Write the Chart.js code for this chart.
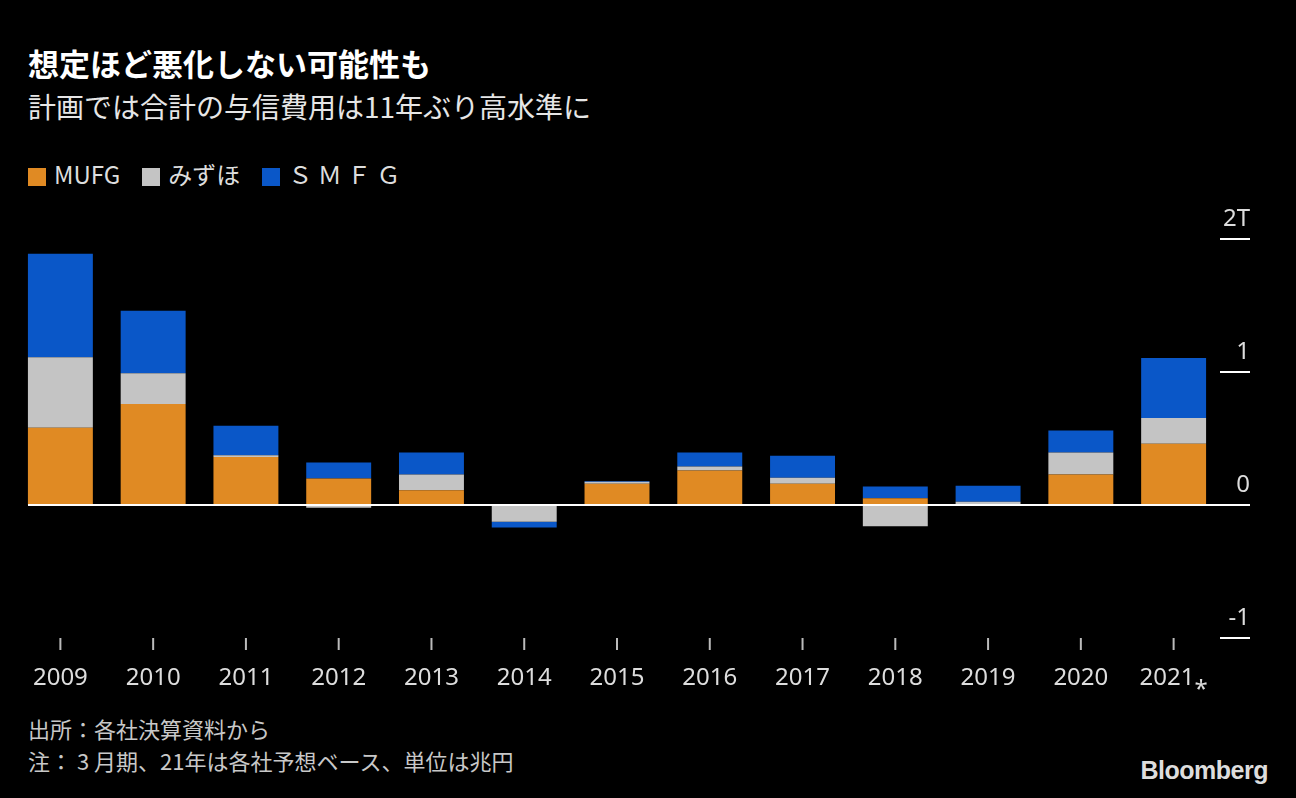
<!DOCTYPE html>
<html><head><meta charset="utf-8">
<script src="https://cdn.jsdelivr.net/npm/chart.js@4"></script>
<style>
body{margin:0;background:#000;width:1296px;height:798px;overflow:hidden;font-family:"Noto Sans CJK JP","Noto Sans",sans-serif;color:#fff;position:relative}
.t{position:absolute;left:28px;white-space:nowrap}
#title{top:40px;font-size:31px;font-weight:bold}
#sub{top:86px;font-size:28px;color:#e6e6e6}
#legend{top:156px;font-size:24px;color:#ddd}
#legend span.sw{display:inline-block;width:18px;height:18px;vertical-align:-2px;margin-right:8px}
#legend span.it{margin-right:22px}
.note{font-size:22px;color:#c8c8c8}
#logo{position:absolute;right:28px;top:756px;font-family:"Liberation Sans",sans-serif;font-weight:bold;font-size:25px;color:#ddd;letter-spacing:-0.5px}
#wrap{position:absolute;left:0;top:190px;width:1296px;height:520px}
</style></head><body>
<div class="t" id="title">想定ほど悪化しない可能性も</div>
<div class="t" id="sub">計画では合計の与信費用は11年ぶり高水準に</div>
<div class="t" id="legend"><span class="it"><span class="sw" style="background:#e08a23"></span>MUFG</span><span class="it"><span class="sw" style="background:#c4c4c4"></span>みずほ</span><span class="it"><span class="sw" style="background:#0a57c8"></span>Ｓ Ｍ Ｆ Ｇ</span></div>
<div class="t note" style="top:712px">出所：各社決算資料から</div>
<div class="t note" style="top:744px">注： 3 月期、21年は各社予想ベース、単位は兆円</div>
<div id="logo">Bloomberg</div>
<div id="wrap"><canvas id="c"></canvas></div>
<script>
const years = ['2009','2010','2011','2012','2013','2014','2015','2016','2017','2018','2019','2020','2021*'];
const mufg = [0.58,0.76,0.36,0.20,0.11,-0.005,0.16,0.26,0.16,0.05,0.005,0.23,0.46];
const mizuho = [0.53,0.23,0.015,-0.02,0.12,-0.12,0.015,0.03,0.045,-0.16,0.02,0.165,0.195];
const smfg = [0.78,0.47,0.22,0.12,0.165,-0.045,0.005,0.105,0.165,0.09,0.12,0.165,0.45];
const yTicks = [2,1,0,-1];
const yLabels = ['2T','1','0','-1'];

const axisPlugin = {
  id:'axisPlugin',
  afterDatasetsDraw(chart){
    const ctx = chart.ctx, y = chart.scales.y, x = chart.scales.x, a = chart.chartArea;
    ctx.save();
    ctx.strokeStyle = '#fff'; ctx.lineWidth = 2;
    ctx.beginPath(); ctx.moveTo(28, y.getPixelForValue(0)); ctx.lineTo(a.right+30, y.getPixelForValue(0)); ctx.stroke();
    ctx.fillStyle = '#ddd'; ctx.font = '24px "Noto Sans", sans-serif'; ctx.textAlign = 'right'; ctx.textBaseline = 'bottom';
    yTicks.forEach((v,i)=>{
      const py = y.getPixelForValue(v);
      ctx.beginPath(); ctx.moveTo(a.right, py); ctx.lineTo(a.right+30, py); ctx.stroke();
      ctx.fillText(yLabels[i], a.right+30, py-8);
    });
    ctx.textAlign = 'center'; ctx.textBaseline = 'middle'; ctx.strokeStyle = '#bbb';
    years.forEach((lab,i)=>{
      const px = x.getPixelForValue(i);
      ctx.beginPath(); ctx.moveTo(px, 448); ctx.lineTo(px, 460); ctx.stroke();
      ctx.fillText(lab.replace('*','⁎'), px, 488);
    });
    ctx.restore();
  }
};

new Chart(document.getElementById('c'), {
  type:'bar',
  data:{labels:years, datasets:[
    {label:'MUFG', data:mufg, backgroundColor:'#e08a23'},
    {label:'みずほ', data:mizuho, backgroundColor:'#c4c4c4'},
    {label:'SMFG', data:smfg, backgroundColor:'#0a57c8'}
  ]},
  options:{
    responsive:true, maintainAspectRatio:false, animation:false,
    layout:{padding:{top:49,bottom:72,left:14,right:76}},
    datasets:{bar:{barPercentage:0.7,categoryPercentage:1}},
    plugins:{legend:{display:false},tooltip:{enabled:false}},
    scales:{
      x:{stacked:true, display:false},
      y:{stacked:true, display:false, min:-1, max:2}
    }
  },
  plugins:[axisPlugin]
});
</script>
</body></html>
